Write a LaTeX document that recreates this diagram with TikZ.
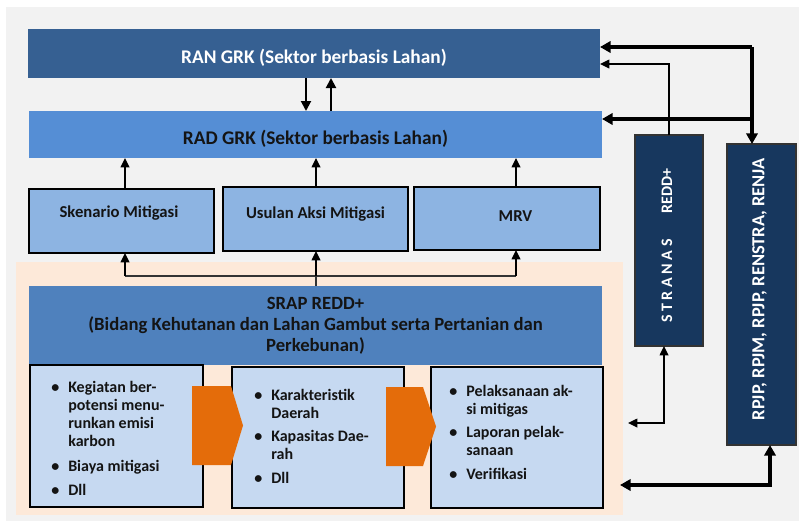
\documentclass[tikz,border=0pt]{standalone}
\usepackage{fontspec}
\setmainfont{Carlito}
\usetikzlibrary{arrows.meta,fit}

\definecolor{bggray}{HTML}{F2F2F2}
\definecolor{ranblue}{HTML}{366092}
\definecolor{radblue}{HTML}{558ED5}
\definecolor{subblue}{HTML}{8DB4E2}
\definecolor{srapblue}{HTML}{4F81BD}
\definecolor{paleblue}{HTML}{C6D9F1}
\definecolor{peach}{HTML}{FDE9D9}
\definecolor{chevorange}{HTML}{E46C0A}
\definecolor{navy}{HTML}{17375E}
\definecolor{ink}{HTML}{141414}

% bullet and hanging indent for the list boxes
\newcommand{\bul}{\makebox[12.75pt][l]{\textbullet}}
\newcommand{\ind}{\hspace*{12.75pt}}

\begin{document}
\begin{tikzpicture}[x=0.75pt,y=-0.75pt,
  base/.style={inner sep=0pt, outer sep=0pt},
  bandtext/.style={font=\bfseries\fontsize{14.5}{17}\selectfont},
  midbox/.style={base, fill=subblue, draw=black, line width=1.1pt},
  listbox/.style={base, fill=paleblue, draw=black, line width=1.1pt},
  sidebox/.style={base, fill=navy, draw=black!80, line width=1.1pt},
  boxlabel/.style={text=ink, font=\bfseries\fontsize{12.5}{15}\selectfont},
  listtext/.style={anchor=north west, inner sep=0pt, align=left, text=ink,
    font=\bfseries\fontsize{12}{13.5}\selectfont},
  sidetext/.style={rotate=90, text=white},
  thin/.style={line width=0.8pt, draw=black!80},
  arr/.style={line width=1.1pt, -{Triangle[length=7pt,width=6.5pt]}},
  arrboth/.style={line width=1.1pt, {Triangle[length=7pt,width=6.5pt]}-{Triangle[length=7pt,width=6.5pt]}},
  midarr/.style={line width=1.5pt, -{Triangle[length=7.5pt,width=7.5pt]}},
  heavy/.style={line width=2.3pt, -{Triangle[length=8pt,width=8.5pt]}},
  heavyboth/.style={line width=2.3pt, {Triangle[length=8pt,width=8.5pt]}-{Triangle[length=8pt,width=8.5pt]}},
]
\useasboundingbox (0,0) rectangle (799,521);
\fill[white] (0,0) rectangle (799,521);
\fill[bggray] (6,7) rectangle (799,521);

% shaded area behind the SRAP block
\fill[peach] (16,262) rectangle (623,515);

% top bands
\node[base, fill=ranblue, fit={(28,29) (600,78)}] (ran) {};
\node[bandtext, text=white] (rantxt) at ([yshift=-3.4pt]ran.center) {RAN GRK (Sektor berbasis Lahan)};
\node[base, fill=radblue, fit={(29,111) (602,158)}] (rad) {};
\node[bandtext, text=ink] (radtxt) at ([yshift=-3.4pt]rad.center) {RAD GRK (Sektor berbasis Lahan)};

% middle row
\node[midbox, fit={(29,189) (214,253)}] (sken) {};
\node[boxlabel] (skentxt) at ([xshift=-1.9pt,yshift=5.6pt]sken.center) {Skenario Mitigasi};
\node[midbox, fit={(223,187) (408,251)}] (usul) {};
\node[boxlabel] (usultxt) at ([yshift=3.8pt]usul.center) {Usulan Aksi Mitigasi};
\node[midbox, fit={(414,187) (600,250)}] (mrv) {};
\node[boxlabel] (mrvtxt) at ([xshift=6.4pt,yshift=1.5pt]mrv.center) {MRV};

% SRAP block
\node[base, fill=srapblue, fit={(29,286) (602,365)}] (srap) {};
\node[align=center, text=ink, font=\bfseries\fontsize{14}{15.75}\selectfont] (sraptxt) at (srap.center)
  {SRAP REDD+\\(Bidang Kehutanan dan Lahan Gambut serta Pertanian dan\\Perkebunan)};

% list boxes
\node[listbox, fit={(30,365) (203,507)}] (b1) {};
\node[listbox, fit={(232,367) (404,508)}] (b2) {};
\node[listbox, fit={(431,367) (603,508)}] (b3) {};

\node[listtext] (b1txt) at (51,381) {\bul Kegiatan ber-\\ \ind potensi menu-\\ \ind runkan emisi\\ \ind karbon\\[5pt]
  \bul Biaya mitigasi\\[5pt] \bul Dll};
\node[listtext] (b2txt) at (254,389) {\bul Karakteristik\\ \ind Daerah\\[4pt]
  \bul Kapasitas Dae-\\ \ind rah\\[4pt] \bul Dll};
\node[listtext] (b3txt) at (449,385) {\bul Pelaksanaan ak-\\ \ind si mitigas\\[4pt]
  \bul Laporan pelak-\\ \ind sanaan\\[4pt] \bul Verifikasi};

% orange chevrons between the list boxes
\fill[chevorange] (192,386) -- (231,386) -- (243,425.5) -- (231,465) -- (192,465) -- cycle;
\fill[chevorange] (386,387) -- (423,387) -- (436,426.5) -- (423,466) -- (386,466) -- cycle;

% side columns
\node[sidebox, fit={(635,135) (703,346)}] (stranas) {};
\node[sidetext, font=\bfseries\fontsize{12}{14}\selectfont] (stranastxt) at ([xshift=-1.5pt,yshift=-4pt]stranas.center)
  {S T R A N A S\hspace{19pt}REDD+};
\node[sidebox, fit={(727,144) (796,445)}] (rpjp) {};
\node[sidetext, font=\bfseries\fontsize{13.8}{16}\selectfont] (rpjptxt) at ([xshift=-1.5pt,yshift=4pt]rpjp.center)
  {RPJP, RPJM, RPJP, RENSTRA, RENJA};

% links between the bands
\coordinate (dnx) at (306,0);
\coordinate (upx) at (331,0);
\draw[midarr] (ran.south -| dnx) -- (rad.north -| dnx);
\draw[midarr] (rad.north -| upx) -- (ran.south -| upx);

% middle row feeding the RAD band
\coordinate (skx) at (125,276);
\coordinate (split) at (316,276);
\coordinate (mvx) at (516,276);
\draw[arr] (sken.north -| skx) -- (rad.south -| skx);
\draw[arr] (usul.north -| split) -- (rad.south -| split);
\draw[arr] (mrv.north -| mvx) -- (rad.south -| mvx);

% SRAP feeding the middle row
\draw[thin] (srap.north -| split) -- (split);
\draw[thin] (skx) -- (mvx);
\draw[arr] (skx) -- (sken.south -| skx);
\draw[arr] (split) -- (usul.south -| split);
\draw[arr] (mvx) -- (mrv.south -| mvx);

% planning documents column
\coordinate (rtop) at (752,47);
\coordinate (rmid) at (752,119);
\draw[heavy] (rtop) -- (ran.east |- rtop);
\draw[heavy] (rmid) -- (rad.east |- rmid);
\draw[heavy] (rtop) -- (rpjp.north -| rtop);
\coordinate (rbot) at (770,485);
\coordinate (rend) at (620,485);
\draw[heavyboth, line join=miter] (rend) -- (rbot) -- (rpjp.south -| rbot);

% STRANAS links
\coordinate (stop) at (669,64);
\draw[arr] (stranas.north -| stop) -- (stop) -- (ran.east |- stop);
\coordinate (sbot) at (664,423);
\coordinate (send) at (628,423);
\draw[arrboth] (send) -- (sbot) -- (stranas.south -| sbot);
\end{tikzpicture}
\end{document}
